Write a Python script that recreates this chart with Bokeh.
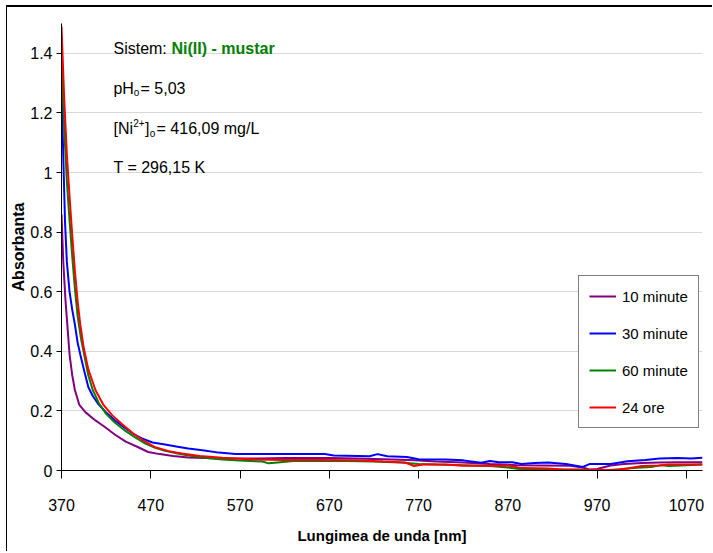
from bokeh.plotting import figure
from bokeh.models import Range1d, FixedTicker, Legend, LegendItem, Label
from bokeh.embed import file_html
from bokeh.resources import INLINE

# ---- data ----
wl_10 = [370, 372, 374.5, 377, 379, 382, 385, 390, 397, 408, 419, 430, 442, 456, 467, 480, 495, 512,
         550, 590, 621, 670, 700, 730, 760, 790, 820, 850, 880, 910, 940, 954, 962, 970, 985, 1000,
         1020, 1040, 1060, 1088]
abs_10 = [0.86, 0.70, 0.57, 0.47, 0.39, 0.32, 0.27, 0.22, 0.195, 0.168, 0.145, 0.12, 0.097, 0.078, 0.062,
          0.055, 0.049, 0.044, 0.040, 0.040, 0.042, 0.042, 0.040, 0.038, 0.035, 0.030, 0.027, 0.022,
          0.018, 0.017, 0.016, 0.010, 0.003, 0.005, 0.017, 0.022, 0.025, 0.027, 0.028, 0.028]

wl_30 = [370, 372, 374, 376, 379, 382, 385, 388, 391, 395, 400, 405, 411, 420, 430, 440, 450, 460, 472,
         486, 500, 512, 530, 546, 565, 600, 640, 665, 675, 715, 724, 735, 757, 770, 800, 820, 840, 850,
         860, 875, 885, 900, 915, 935, 954, 962, 985, 1004, 1024, 1040, 1060, 1075, 1088]
abs_30 = [1.31, 1.05, 0.83, 0.70, 0.60, 0.54, 0.49, 0.43, 0.39, 0.34, 0.28, 0.25, 0.224, 0.195, 0.168,
          0.145, 0.124, 0.108, 0.094, 0.087, 0.080, 0.074, 0.067, 0.060, 0.055, 0.055, 0.055, 0.055,
          0.050, 0.048, 0.055, 0.048, 0.045, 0.038, 0.037, 0.034, 0.026, 0.032, 0.028, 0.028, 0.022,
          0.025, 0.027, 0.022, 0.012, 0.022, 0.022, 0.031, 0.035, 0.040, 0.042, 0.040, 0.043]

wl_60 = [370, 373, 376, 379, 382, 385, 388, 392, 396, 400, 405, 412, 420, 430, 442, 453, 464, 475, 486,
         500, 512, 530, 550, 575, 595, 602, 612, 630, 690, 720, 750, 770, 790, 820, 850, 870, 885, 920,
         955, 975, 995, 1010, 1030, 1042, 1050, 1070, 1088]
abs_60 = [1.40, 1.15, 0.97, 0.84, 0.72, 0.61, 0.52, 0.44, 0.38, 0.32, 0.27, 0.225, 0.19, 0.16, 0.132,
          0.11, 0.09, 0.076, 0.066, 0.057, 0.050, 0.043, 0.037, 0.033, 0.030, 0.024, 0.027, 0.032,
          0.032, 0.030, 0.027, 0.022, 0.020, 0.018, 0.015, 0.010, 0.004, 0.003, 0.003, 0.0, 0.004,
          0.008, 0.012, 0.018, 0.015, 0.018, 0.020]

wl_24h = [370, 373, 376, 379, 382, 385, 388, 391, 395, 400, 408, 417, 427, 438, 450, 462, 475, 490, 505,
          525, 550, 587, 620, 660, 700, 730, 755, 765, 775, 800, 820, 850, 870, 885, 915, 930, 960, 990,
          1004, 1020, 1040, 1050, 1088]
abs_24h = [1.49, 1.25, 1.06, 0.92, 0.79, 0.67, 0.57, 0.49, 0.41, 0.34, 0.27, 0.22, 0.185, 0.155, 0.125,
           0.10, 0.078, 0.065, 0.057, 0.049, 0.043, 0.037, 0.035, 0.035, 0.034, 0.030, 0.027, 0.015,
           0.020, 0.020, 0.016, 0.016, 0.017, 0.008, 0.007, 0.003, 0.002, 0.002, 0.007, 0.015, 0.017,
           0.020, 0.020]

series_names = ["10 minute", "30 minute", "60 minute", "24 ore"]
series_colors = ["#800080", "#0000FF", "#008000", "#FF0000"]
x_ticks = [370, 470, 570, 670, 770, 870, 970, 1070]
y_ticks = [0, 0.2, 0.4, 0.6, 0.8, 1, 1.2, 1.4]
y_tick_labels = ["0", "0.2", "0.4", "0.6", "0.8", "1", "1.2", "1.4"]

FONT = "Liberation Sans"

p = figure(width=706, height=546, output_backend="svg", toolbar_location=None,
           x_range=Range1d(370, 1088), y_range=Range1d(0, 1.5),
           min_border_left=54, min_border_right=11, min_border_top=16, min_border_bottom=83)
p.margin = (5, 0, 0, 6)
p.styles = {"border-top": "2px solid black", "border-left": "1px solid black"}
p.outline_line_color = None
p.background_fill_color = "white"
p.border_fill_color = "white"

p.xgrid.visible = False
p.ygrid.grid_line_color = "#d9d9d9"
p.ygrid.grid_line_width = 1

p.xaxis.ticker = FixedTicker(ticks=x_ticks)
p.yaxis.ticker = FixedTicker(ticks=y_ticks)
p.yaxis.major_label_overrides = {t: l for t, l in zip(y_ticks, y_tick_labels)}
for ax in (p.xaxis[0], p.yaxis[0]):
    ax.axis_line_color = "black"
    ax.major_tick_line_color = "black"
    ax.minor_tick_line_color = None
    ax.major_tick_in = 0
    ax.major_label_text_font = FONT
    ax.major_label_text_font_size = "16px"
    ax.major_label_text_color = "black"
    ax.axis_label_text_color = "black"
    ax.axis_label_text_font_style = "bold"
    ax.axis_label_text_font = FONT
p.xaxis.major_tick_out = 8
p.yaxis.major_tick_out = 5
p.xaxis.major_label_standoff = 20
p.yaxis.major_label_standoff = 4
p.xaxis.axis_label = "Lungimea de unda [nm]"
p.xaxis.axis_label_text_font_size = "15px"
p.xaxis.axis_label_standoff = 13
p.yaxis.axis_label = "Absorbanta"
p.yaxis.axis_label_text_font_size = "16px"
p.yaxis.axis_label_standoff = 0

rs = []
for wl, ab, c in zip([wl_10, wl_30, wl_60, wl_24h], [abs_10, abs_30, abs_60, abs_24h], series_colors):
    rs.append(p.line(wl, ab, line_color=c, line_width=2))

legend = Legend(items=[LegendItem(label=n, renderers=[r]) for n, r in zip(series_names, rs)],
                location=(517, 42))
legend.label_text_font = FONT
legend.label_text_font_size = "15px"
legend.label_text_color = "black"
legend.glyph_width = 27
legend.glyph_height = 20
legend.label_height = 20
legend.label_standoff = 6
legend.spacing = 17
legend.padding = 10
legend.margin = 0
legend.border_line_color = "black"
legend.border_line_width = 1
legend.background_fill_color = "white"
legend.background_fill_alpha = 1
p.add_layout(legend, "center")

def lab(x, y, text, size="16px", color="black", style="normal"):
    p.add_layout(Label(x=x, y=y, text=text, text_font=FONT, text_font_size=size,
                       text_color=color, text_font_style=style, text_baseline="alphabetic",
                       text_align="left"))

lab(428.2, 1.4163, "Sistem: ")
lab(493.2, 1.4163, "Ni(II) - mustar", color="#008000", style="bold")
lab(428.2, 1.2821, "pH")
lab(450.8, 1.2687, "o", size="10px")
lab(458.5, 1.2821, "= 5,03")
lab(428.2, 1.1478, "[Ni")
lab(450.3, 1.1646, "2+", size="10px")
lab(463.5, 1.1478, "]")
lab(468.8, 1.131, "o", size="10px")
lab(476.5, 1.1478, "= 416,09 mg/L")
lab(428.2, 1.0169, "T = 296,15 K")

open("out.html", "w").write(file_html(p, INLINE))
